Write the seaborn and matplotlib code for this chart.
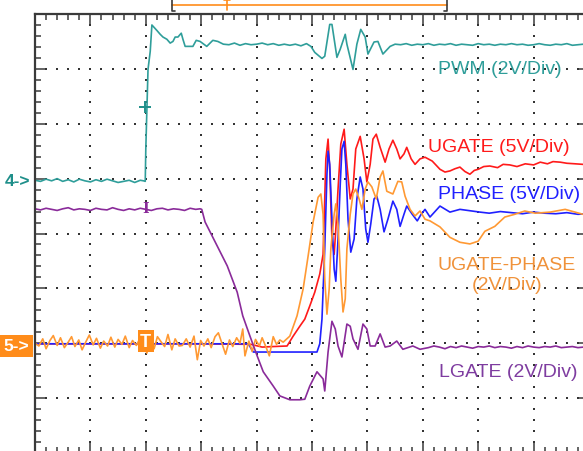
"""Synchronous buck switching waveforms - scope capture redrawn."""

import matplotlib

matplotlib.use("Agg")
import matplotlib.pyplot as plt
import numpy as np
import seaborn as sns

# screen units: time and amplitude in scope divisions (10 x 8 graticule)
pwm_t = [0.0, 0.1, 0.2, 0.3, 0.4, 0.5, 0.6, 0.7, 0.8, 0.9, 1.0, 1.1, 1.2, 1.3, 1.4, 1.5, 1.6, 1.7, 1.8, 1.9, 1.96,
         1.99, 2.00, 2.02, 2.04, 2.08, 2.11, 2.20, 2.26, 2.31, 2.38, 2.44, 2.49, 2.53, 2.58, 2.64, 2.67, 2.71, 2.85,
         2.91, 2.98, 3.10, 3.21, 3.30,
         3.40, 3.50, 3.60, 3.70, 3.80, 3.90, 4.00, 4.10, 4.20, 4.30, 4.40, 4.50, 4.60, 4.70, 4.80, 4.90, 4.98,
         5.05, 5.18, 5.23, 5.32, 5.36, 5.45, 5.51, 5.60, 5.63, 5.74, 5.81, 5.88, 5.96, 6.01, 6.12, 6.19, 6.28, 6.41, 6.50,
         6.60, 6.70, 6.80, 6.90, 7.00, 7.10, 7.20, 7.30, 7.40, 7.50, 7.60, 7.70, 7.80, 7.90, 8.00, 8.10, 8.20, 8.30,
         8.40, 8.50, 8.60, 8.70, 8.80, 8.90, 9.00, 9.10, 9.20, 9.30, 9.40, 9.50, 9.60, 9.70, 9.80, 9.90, 10.0]
pwm_v = [4.97, 4.95, 4.99, 4.96, 5.00, 4.95, 4.98, 4.94, 4.99, 4.96, 4.94, 4.98, 4.95, 4.99, 4.96, 4.93, 4.95, 4.97, 4.93, 4.97, 4.96,
         4.95, 5.54, 6.27, 6.99, 7.32, 7.80, 7.70, 7.63, 7.58, 7.54, 7.47, 7.50, 7.58, 7.58, 7.65, 7.54, 7.41, 7.41,
         7.52, 7.50, 7.41, 7.52, 7.50,
         7.45, 7.44, 7.47, 7.43, 7.46, 7.44, 7.45, 7.47, 7.44, 7.46, 7.43, 7.45, 7.43, 7.45, 7.42, 7.46, 7.41,
         7.30, 7.19, 7.23, 7.81, 7.81, 7.21, 7.36, 7.63, 7.45, 6.99, 7.45, 7.72, 7.58, 7.27, 7.49, 7.50, 7.27, 7.41, 7.45,
         7.44, 7.46, 7.43, 7.45, 7.44, 7.46, 7.43, 7.45, 7.44, 7.46, 7.43, 7.45, 7.44, 7.43, 7.46, 7.44, 7.45, 7.43,
         7.45, 7.44, 7.46, 7.44, 7.45, 7.43, 7.44, 7.46, 7.44, 7.43, 7.45, 7.44, 7.46, 7.43, 7.44, 7.45, 7.44]

lgate_t = [0.0, 0.1, 0.2, 0.3, 0.4, 0.5, 0.6, 0.7, 0.8, 0.9, 1.0, 1.1, 1.2, 1.3, 1.4, 1.5, 1.6, 1.7, 1.8, 1.9,
           2.0, 2.1, 2.2, 2.3, 2.4, 2.5, 2.6, 2.7, 2.8, 2.9, 2.98,
           3.01, 3.07, 3.29, 3.47, 3.65, 3.75, 3.88, 4.01, 4.12, 4.30, 4.42, 4.60, 4.78, 4.87, 4.96, 5.09, 5.20, 5.23,
           5.29, 5.36, 5.42, 5.47, 5.54, 5.63, 5.69, 5.74, 5.83, 5.92, 5.99, 6.05, 6.14, 6.23, 6.32, 6.41, 6.53, 6.64,
           6.82, 6.95,
           7.1, 7.2, 7.3, 7.4, 7.5, 7.6, 7.7, 7.8, 7.9, 8.0, 8.1, 8.2, 8.3, 8.4, 8.5, 8.6, 8.7, 8.8, 8.9, 9.0,
           9.1, 9.2, 9.3, 9.4, 9.5, 9.6, 9.7, 9.8, 9.9, 10.0]
lgate_v = [4.45, 4.43, 4.46, 4.44, 4.42, 4.45, 4.47, 4.43, 4.45, 4.44, 4.42, 4.46, 4.44, 4.43, 4.47, 4.44, 4.42, 4.45, 4.43, 4.46,
           4.44, 4.42, 4.45, 4.46, 4.43, 4.45, 4.44, 4.42, 4.46, 4.44, 4.45,
           4.44, 4.21, 3.77, 3.41, 2.93, 2.50, 2.13, 1.77, 1.48, 1.22, 1.04, 0.97, 0.97, 0.98, 1.22, 1.48, 1.35, 1.13,
           1.84, 2.40, 2.26, 1.95, 1.75, 2.35, 2.31, 2.08, 1.89, 2.35, 2.26, 1.95, 1.95, 2.17, 1.93, 1.95, 2.04, 1.89,
           1.95, 1.89,
           1.92, 1.95, 1.93, 1.90, 1.94, 1.92, 1.95, 1.93, 1.91, 1.94, 1.93, 1.95, 1.92, 1.94, 1.93, 1.91, 1.94, 1.92, 1.95, 1.93,
           1.92, 1.94, 1.93, 1.95, 1.92, 1.93, 1.94, 1.92, 1.93, 1.94]

ugate_t = [0.0, 1.0, 2.0, 3.0, 3.9, 4.1, 4.3, 4.55,
           4.66, 4.78, 4.87, 4.96, 5.05, 5.14, 5.20, 5.23, 5.25, 5.29, 5.32, 5.36, 5.40, 5.43, 5.47, 5.52, 5.58, 5.63,
           5.69, 5.74, 5.79, 5.87, 5.94, 5.99, 6.05, 6.10, 6.16, 6.23, 6.32, 6.39, 6.46, 6.53, 6.59, 6.66, 6.71, 6.79,
           6.86, 6.95, 7.04, 7.17,
           7.31, 7.40, 7.49, 7.58, 7.67, 7.76, 7.85, 7.93, 8.00, 8.10, 8.21, 8.35, 8.45, 8.57, 8.70, 8.85, 9.00, 9.12,
           9.25, 9.35, 9.48, 9.60, 9.75, 9.89, 10.0]
ugate_v = [1.99, 1.99, 1.99, 1.99, 1.98, 1.93, 1.94, 1.95,
           2.13, 2.31, 2.44, 2.68, 2.93, 3.26, 3.62, 4.63, 5.36, 5.72, 5.17, 3.90, 3.62, 4.08, 4.81, 5.63, 5.90, 5.26,
           4.63, 4.81, 5.54, 5.77, 5.36, 4.94, 5.26, 5.72, 5.81, 5.57, 5.30, 5.54, 5.70, 5.54, 5.36, 5.45, 5.57, 5.36,
           5.26, 5.36, 5.39, 5.32,
           5.17, 5.12, 5.14, 5.18, 5.21, 5.13, 5.08, 5.15, 5.17, 5.22, 5.23, 5.20, 5.26, 5.25, 5.22, 5.27, 5.25, 5.30,
           5.27, 5.31, 5.30, 5.28, 5.27, 5.26, 5.26]

phase_t = [0.0, 1.0, 2.0, 3.0, 3.85, 3.94, 4.5, 5.09,
           5.14, 5.18, 5.23, 5.27, 5.29, 5.32, 5.36, 5.40, 5.43, 5.47, 5.51, 5.54, 5.58, 5.61, 5.65, 5.70, 5.76, 5.81,
           5.87, 5.92, 5.97, 6.01, 6.06, 6.12, 6.17, 6.23, 6.30, 6.37, 6.46, 6.53, 6.59, 6.66, 6.71, 6.81, 6.90, 6.97,
           7.04, 7.13, 7.31, 7.49, 7.67, 8.03,
           8.2, 8.4, 8.6, 8.8, 9.0, 9.2, 9.4, 9.6, 9.8, 10.0]
phase_v = [1.99, 1.99, 1.99, 1.99, 1.99, 1.84, 1.84, 1.84,
           1.99, 2.44, 3.72, 5.08, 5.50, 5.26, 4.26, 3.35, 3.13, 3.90, 4.90, 5.54, 5.68, 5.26, 4.26, 3.66, 3.90, 4.63,
           5.03, 4.81, 4.08, 3.84, 4.17, 4.63, 4.68, 4.44, 4.03, 4.26, 4.59, 4.44, 4.13, 4.35, 4.50, 4.35, 4.23, 4.35,
           4.44, 4.30, 4.50, 4.39, 4.44, 4.39,
           4.37, 4.40, 4.38, 4.36, 4.39, 4.37, 4.36, 4.38, 4.35, 4.36]

diff_t = [0.00, 0.07, 0.14, 0.20, 0.27, 0.33, 0.40, 0.46, 0.53, 0.60, 0.66, 0.72, 0.79, 0.85, 0.92, 0.98, 1.05, 1.11,
          1.18, 1.24, 1.31, 1.37, 1.44, 1.50, 1.57, 1.63, 1.70, 1.76, 1.83, 1.89, 1.95, 2.02, 2.08, 2.15, 2.21, 2.28,
          2.34, 2.40, 2.47, 2.53, 2.60, 2.66, 2.73, 2.80, 2.87, 2.93, 2.99, 3.05, 3.12, 3.18, 3.25, 3.31, 3.38, 3.44,
          3.51, 3.57, 3.64, 3.70, 3.75, 3.79, 3.86, 3.92, 3.98, 4.05, 4.10, 4.17, 4.23, 4.30, 4.36, 4.42, 4.48,
          4.60, 4.73, 4.84, 4.93, 5.02, 5.11, 5.16, 5.20, 5.23, 5.27, 5.31, 5.34, 5.40, 5.43, 5.47, 5.52, 5.56, 5.60,
          5.63, 5.69, 5.74, 5.79, 5.85, 5.90, 5.96, 6.01, 6.08, 6.16, 6.23, 6.28, 6.35, 6.46, 6.55, 6.62, 6.68, 6.77,
          6.86, 6.95, 7.04, 7.13, 7.31, 7.49, 7.67, 7.85, 8.00, 8.12, 8.30, 8.48, 8.66, 8.84, 9.03, 9.30, 9.57, 9.89, 10.0]
diff_v = [2.00, 1.95, 2.08, 1.90, 2.05, 2.14, 1.96, 2.10, 1.92, 2.02, 2.12, 1.94, 2.06, 1.88, 2.03, 2.15, 1.97, 2.09,
          1.91, 2.04, 1.95, 2.11, 1.93, 2.07, 1.98, 2.13, 1.92, 2.05, 1.96, 2.08, 1.99, 1.82, 2.10, 1.90, 2.12, 2.02,
          1.94, 2.16, 1.88, 2.08, 1.95, 1.96, 2.08, 1.93, 2.13, 1.70, 2.05, 1.95, 2.08, 1.92, 2.12, 2.19, 1.98, 1.80,
          2.06, 1.94, 2.10, 2.00, 2.26, 1.77, 2.04, 1.85, 2.07, 1.95, 2.10, 1.93, 1.77, 2.12, 1.98, 2.06, 2.02,
          2.13, 2.50, 2.99, 3.59, 4.21, 4.66, 4.72, 4.35, 3.17, 2.53, 2.99, 3.72, 4.35, 4.54, 4.17, 3.17, 2.57, 2.81,
          3.72, 4.35, 4.72, 4.81, 4.63, 4.44, 4.81, 4.94, 4.85, 4.63, 5.03, 5.14, 4.77, 4.72, 4.95, 4.94, 4.68, 4.44,
          4.32, 4.41, 4.26, 4.23, 4.12, 3.93, 3.84, 3.81, 3.86, 4.04, 4.13, 4.30, 4.35, 4.41, 4.37, 4.39, 4.44, 4.35, 4.38]

channel_labels = ["PWM (2V/Div)", "UGATE (5V/Div)", "PHASE (5V/Div)", "UGATE-PHASE\n(2V/Div)", "LGATE (2V/Div)"]

TEAL = "#2f9e9a"
RED = "#ff1a1a"
BLUE = "#2020ff"
ORANGE = "#ff9933"
PURPLE = "#8a2b9a"
FRAME = "#3a3a3a"

sns.set_style("white")
plt.rcParams["font.family"] = ["Liberation Sans", "DejaVu Sans"]

fig = plt.figure(figsize=(5.83, 4.52), dpi=100)
ax = fig.add_axes([35 / 583, -2 / 452, 554 / 583, 439 / 452])
ax.set_xlim(0, 10)
ax.set_ylim(0, 8)

# graticule: dotted major lines, a dot every minor division
minor = np.arange(0, 8.01, 0.2)
for k in range(1, 10):
    ax.scatter(np.full(minor.size, k), minor, s=1.4, marker="s", color="#333333", linewidths=0, zorder=1)
minor_x = np.arange(0, 10.01, 0.2)
for k in range(1, 8):
    ax.scatter(minor_x, np.full(minor_x.size, k), s=1.4, marker="s", color="#333333", linewidths=0, zorder=1)

traces = [
    (pwm_t, pwm_v, TEAL),
    (ugate_t, ugate_v, RED),
    (phase_t, phase_v, BLUE),
    (diff_t, diff_v, ORANGE),
    (lgate_t, lgate_v, PURPLE),
]
for t, v, c in traces:
    sns.lineplot(x=t, y=v, ax=ax, color=c, linewidth=1.2, sort=False, estimator=None)

for s in ax.spines.values():
    s.set_color(FRAME)
    s.set_linewidth(1.6)
ax.set_xticks(np.arange(0, 11, 1))
ax.set_yticks(np.arange(0, 9, 1))
ax.set_xticks(np.arange(0, 10.01, 0.2), minor=True)
ax.set_yticks(np.arange(0, 8.01, 0.2), minor=True)
ax.tick_params(which="both", direction="in", top=True, right=True, bottom=True, left=True,
               labelbottom=False, labelleft=False, color=FRAME, width=1.1)
ax.tick_params(which="major", length=8.5)
ax.tick_params(which="minor", length=4.0)
ax.set_xlabel("")
ax.set_ylabel("")

# channel text
ax.text(7.27, 7.00, channel_labels[0], color=TEAL, fontsize=14, va="center", ha="left")
ax.text(7.09, 5.59, channel_labels[1], color=RED, fontsize=14, va="center", ha="left")
ax.text(7.27, 4.72, channel_labels[2], color=BLUE, fontsize=14, va="center", ha="left")
ax.text(8.52, 3.25, channel_labels[3], color="#f0923a", fontsize=14, va="center", ha="center",
        multialignment="center", linespacing=1.2)
ax.text(7.29, 1.49, channel_labels[4], color="#7e3ca0", fontsize=14, va="center", ha="left")

# channel reference markers and cursors
ax.text(-0.08, 4.97, "4->", color="#1f8f8a", fontsize=12.5, fontweight="bold", ha="right", va="center",
        clip_on=False)
ax.text(-0.33, 1.95, "5->", color="white", fontsize=12.5, fontweight="bold", ha="center", va="center",
        clip_on=False, bbox=dict(boxstyle="square,pad=0.22", fc="#ff8c1a", ec="none"))
ax.text(2.00, 2.04, "T", color="white", fontsize=13, fontweight="bold", ha="center", va="center",
        bbox=dict(boxstyle="square,pad=0.12", fc="#ff8c1a", ec="none"), zorder=6)
ax.plot([1.99], [6.30], marker="+", ms=9, mew=1.4, color="#1f8f8a", zorder=6)
ax.text(1.99, 4.46, "I", color=PURPLE, fontsize=10, fontweight="bold", family="DejaVu Serif",
        ha="center", va="center", zorder=6)

# record view indicator above the graticule
view_start, view_end, trig_pos = 2.47, 7.44, 3.47
ax.plot([view_start, view_end], [8.16, 8.16], color="#ff8c1a", lw=1.2, clip_on=False)
ax.plot([view_start + 0.05, view_start, view_start, view_start + 0.05], [8.27, 8.27, 8.05, 8.05],
        color=FRAME, lw=1.2, clip_on=False)
ax.plot([view_end - 0.05, view_end, view_end, view_end - 0.05], [8.27, 8.27, 8.05, 8.05],
        color=FRAME, lw=1.2, clip_on=False)
ax.plot([trig_pos, trig_pos], [8.07, 8.27], color="#ff8c1a", lw=1.2, clip_on=False)
ax.plot([trig_pos - 0.05, trig_pos + 0.05], [8.26, 8.26], color="#ff8c1a", lw=1.2, clip_on=False)

fig.savefig("out.png", dpi=100)
plt.close(fig)
